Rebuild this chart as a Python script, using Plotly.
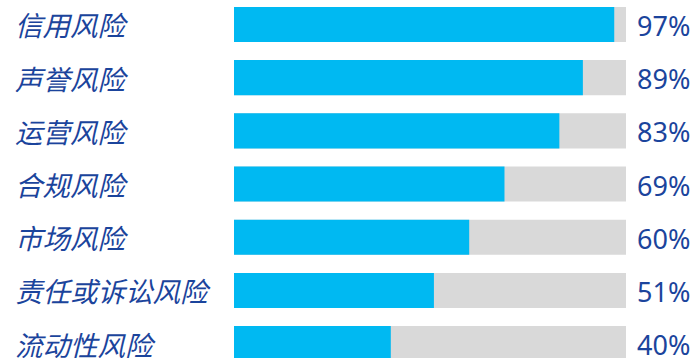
import plotly.graph_objects as go

categories = ["信用风险", "声誉风险", "运营风险", "合规风险", "市场风险", "责任或诉讼风险", "流动性风险"]
values = [97, 89, 83, 69, 60, 51, 40]
totals = [100] * len(values)
value_labels = [f"{v}%" for v in values]

BLUE = "#00B9F2"
GREY = "#D9D9D9"
TEXT = "#1B449C"

pos = list(range(len(categories)))

fig = go.Figure()
fig.add_trace(go.Bar(y=pos, x=totals, orientation="h", marker=dict(color=GREY, line_width=0),
                     width=0.66, hoverinfo="skip"))
fig.add_trace(go.Bar(y=pos, x=values, orientation="h", marker=dict(color=BLUE, line_width=0),
                     width=0.66, hoverinfo="skip"))

for p, c, t in zip(pos, categories, value_labels):
    fig.add_annotation(x=-0.565, xref="paper", y=p, yref="y", text=f"<i>{c}</i>", showarrow=False,
                       xanchor="left", yanchor="middle",
                       font=dict(family="Noto Sans CJK SC", size=27.5, color=TEXT))
    fig.add_annotation(x=1.0235, xref="paper", y=p, yref="y", yshift=-1, text=t, showarrow=False,
                       xanchor="left", yanchor="middle",
                       font=dict(family="Noto Sans", size=27, color=TEXT))

fig.update_layout(
    barmode="overlay",
    width=699, height=358,
    margin=dict(l=234, r=73, t=0, b=0),
    paper_bgcolor="white", plot_bgcolor="white",
    showlegend=False,
    xaxis=dict(range=[0, 100], visible=False, fixedrange=True),
    yaxis=dict(range=[6.27, -0.46], visible=False, fixedrange=True),
)

fig.write_html("out.html")
